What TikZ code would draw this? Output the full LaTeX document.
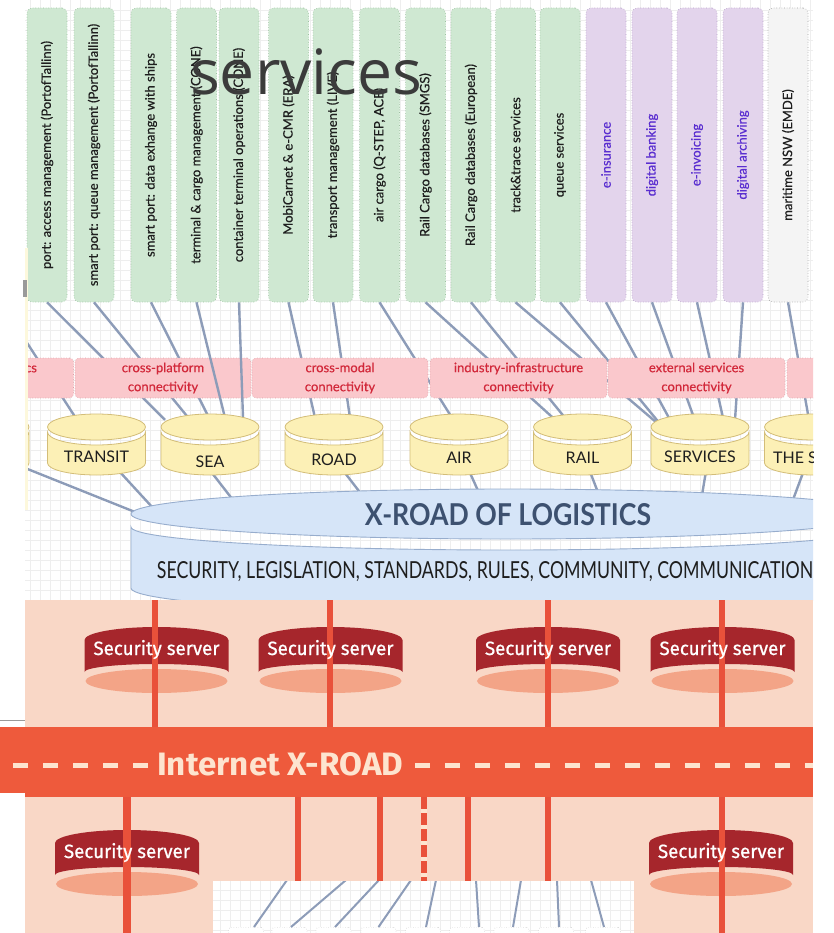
\documentclass[tikz,border=0pt]{standalone}
\usepackage{graphicx}
\usepackage{fontspec}
\setmainfont{Lato}
\newfontfamily\latom[FakeBold=0.5]{Lato}
\newfontfamily\osans{Open Sans}
\newfontfamily\firasans{Fira Sans}
\newfontfamily\firam[FakeBold=0.7]{Fira Sans}
\usetikzlibrary{calc}
\definecolor{gfill}{HTML}{CFE8D2}
\definecolor{gline}{HTML}{9CC2A0}
\definecolor{pfill}{HTML}{E3D4EC}
\definecolor{pline}{HTML}{B8A2CA}
\definecolor{ptext}{HTML}{5A2ED0}
\definecolor{wfill}{HTML}{F4F4F4}
\definecolor{wline}{HTML}{A0A0A0}
\definecolor{kfill}{HTML}{FAC8CC}
\definecolor{kline}{HTML}{D9A0A6}
\definecolor{ktext}{HTML}{D2283A}
\definecolor{yfill}{HTML}{FCF0B6}
\definecolor{yline}{HTML}{D3BD78}
\definecolor{bfill}{HTML}{D6E5F8}
\definecolor{bline}{HTML}{97ADCD}
\definecolor{btext}{HTML}{3D5170}
\definecolor{lnk}{HTML}{8D9CB8}
\definecolor{gridc}{HTML}{EEEEEE}
\definecolor{salmon}{HTML}{F9D7C6}
\definecolor{barc}{HTML}{EE5A3C}
\definecolor{redl}{HTML}{E9513A}
\definecolor{srvdark}{HTML}{A6262C}
\definecolor{srvlight}{HTML}{F3A487}
\definecolor{cream}{HTML}{FDE4CF}
\definecolor{dtext}{HTML}{1E1E1E}
\definecolor{ovl}{HTML}{3B3B3B}
\definecolor{stripc}{HTML}{FDF8DC}
\definecolor{markc}{HTML}{9A9A9A}

\newcommand\drawcyl[1]{%
  \filldraw[fill=yfill,draw=yline,line width=0.8pt] (#1-49,432) arc[start angle=180,end angle=0,x radius=49,y radius=13] -- (#1+49,463) arc[start angle=0,end angle=180,x radius=49,y radius=12] -- cycle;
  \filldraw[fill=yfill,draw=yline,line width=0.8pt] (#1,427) ellipse[x radius=49,y radius=13];
}
\newcommand\drawsrv[2]{%
  \fill[srvlight] (#1,#2+54) ellipse[x radius=71,y radius=12];
  \fill[srvdark] (#1-72,#2+13) arc[start angle=180,end angle=360,x radius=72,y radius=13] -- (#1+72,#2+45) arc[start angle=0,end angle=-180,x radius=72,y radius=8] -- cycle;
}

\begin{document}
\begin{tikzpicture}[x=1pt,y=-1pt,
  svcbase/.style={rectangle, rounded corners=5pt, minimum width=40pt, minimum height=294pt, inner sep=0pt, line width=0.6pt, dotted, font=\latom\fontsize{13}{15}\selectfont},
  svcg/.style={svcbase, fill=gfill, draw=gline, text=dtext},
  svcp/.style={svcbase, fill=pfill, draw=pline, text=ptext},
  svcw/.style={svcbase, fill=wfill, draw=wline, text=dtext},
  pinkbox/.style={rectangle, rounded corners=4pt, fill=kfill, draw=kline, dotted, line width=0.6pt, minimum width=176pt, minimum height=40pt, inner sep=0pt, align=center, text=ktext, font=\latom\fontsize{13}{19}\selectfont},
  cylbox/.style={inner sep=0pt, minimum width=98pt, minimum height=61pt},
  cyltxt/.style={inner sep=0pt, text=dtext, font=\fontsize{16}{18}\selectfont},
  conn/.style={draw=lnk, line width=2.4pt},
  redln/.style={draw=redl, line width=6pt},
  srvtxt/.style={anchor=base, inner sep=0pt, text=white},
  ibox/.style={rectangle, rounded corners=3pt, draw=wline, dotted, fill=white, minimum width=35pt, minimum height=20pt, inner sep=0pt, anchor=north}
]
\useasboundingbox (0,0) rectangle (833,933);
\fill[white] (0,0) rectangle (833,933);

% ---------------- top: X-road of logistics ----------------
\begin{scope}
\clip (25,0) rectangle (813,600);
\fill[white] (25,0) rectangle (813,600);
\foreach \gx in {30,40,...,810} \draw[gridc, line width=0.5pt] (\gx,0) -- (\gx,600);
\foreach \gy in {10,20,...,600} \draw[gridc, line width=0.5pt] (25,\gy) -- (813,\gy);

% service boxes
\node[svcg] (s1) at (47,155) {\rotatebox{90}{port: access management (PortofTallinn)}};
\node[svcg] (s2) at (94,155) {\rotatebox{90}{smart port: queue management (PortofTallinn)}};
\node[svcg] (s3) at (151,155) {\rotatebox{90}{smart port: data exhange with ships}};
\node[svcg] (s4) at (196.5,155) {\rotatebox{90}{terminal \& cargo management (CONE)}};
\node[svcg] (s5) at (239,155) {\rotatebox{90}{container terminal operations (CONE)}};
\node[svcg] (s6) at (288.5,155) {\rotatebox{90}{MobiCarnet \& e-CMR (ERA)}};
\node[svcg] (s7) at (333,155) {\rotatebox{90}{transport management (LIVE)}};
\node[svcg] (s8) at (379.5,155) {\rotatebox{90}{air cargo (Q-STEP, ACE)}};
\node[svcg] (s9) at (425.5,155) {\rotatebox{90}{Rail Cargo databases (SMGS)}};
\node[svcg] (s10) at (471,155) {\rotatebox{90}{Rail Cargo databases (European)}};
\node[svcg] (s11) at (515.5,155) {\rotatebox{90}{track\&trace services}};
\node[svcg] (s12) at (560,155) {\rotatebox{90}{queue services}};
\node[svcp] (s13) at (606,155) {\rotatebox{90}{e-insurance}};
\node[svcp] (s14) at (652,155) {\rotatebox{90}{digital banking}};
\node[svcp] (s15) at (697,155) {\rotatebox{90}{e-invoicing}};
\node[svcp] (s16) at (743,155) {\rotatebox{90}{digital archiving}};
\node[svcw] (s17) at (788,155) {\rotatebox{90}{maritime NSW (EMDE)}};

\node[anchor=base west, inner sep=0pt, text=ovl] (svctitle) at (190,95) {\resizebox{232pt}{!}{\osans services}};

% anchors of the databases and the X-road
\node[cylbox] (leftcyl) at (-20,444.5) {};
\node[cylbox] (transit) at (96.5,444.5) {};
\node[cylbox] (sea) at (210,444.5) {};
\node[cylbox] (road) at (334,444.5) {};
\node[cylbox] (air) at (459,444.5) {};
\node[cylbox] (rail) at (582.5,444.5) {};
\node[cylbox] (services) at (700,444.5) {};
\node[cylbox] (thes) at (813.5,444.5) {};
\coordinate (xroad) at (507,514);
\coordinate (edgeA) at (20,332);
\coordinate (edgeB) at (15,464);

% connectors behind the connectivity boxes
\draw[conn] (s1.south) -- ($(sea.north)+(-45,6)$);
\draw[conn] (s2.south) -- ($(sea.north)+(-20,6)$);
\draw[conn] (s3.south) -- ($(sea.north)+(0,6)$);
\draw[conn] (s6.south) -- ($(road.north)+(-19,4)$);
\draw[conn] (s7.south) -- ($(road.north)+(16,4)$);
\draw[conn] (s8.south) -- ($(air.north)+(-7,4)$);
\draw[conn] (s9.south) -- ($(rail.north)+(-29.5,4)$);
\draw[conn] (s10.south) -- ($(rail.north)+(-17.5,4)$);
\draw[conn] (s11.south) -- ($(services.north)+(-42,10)$);
\draw[conn] (s12.south) -- ($(services.north)+(-40,10)$);
\draw[conn] (s13.south) -- ($(services.north)+(-30,6)$);
\draw[conn] (s14.south) -- ($(services.north)+(-6,4)$);
\draw[conn] (s15.south) -- ($(services.north)+(23,4)$);
\draw[conn] (s16.south) -- ($(services.north)+(35,6)$);
\draw[conn] (s17.south) -- ($(thes.north)+(-4.5,6)$);
\draw[conn] (edgeA) -- ($(transit.north)+(-19.5,6)$);
\draw[conn] (edgeB) -- ($(xroad)+(-372,-2)$);
\draw[conn] ($(transit.south)+(13.5,-14)$) -- ($(xroad)+(-354,-6)$);
\draw[conn] ($(sea.south)+(-4,-10)$) -- ($(xroad)+(-274,-14)$);
\draw[conn] ($(road.south)+(5,-10)$) -- ($(xroad)+(-145,-19)$);
\draw[conn] ($(air.south)+(7.5,-10)$) -- ($(xroad)+(-27,-19)$);
\draw[conn] ($(rail.south)+(5,-10)$) -- ($(xroad)+(92,-19)$);
\draw[conn] ($(services.south)+(7,-10)$) -- ($(xroad)+(195,-19)$);
\draw[conn] ($(thes.south)+(-6.5,-13)$) -- ($(xroad)+(284,-9)$);

% connectivity boxes
\node[pinkbox] (cA) at (-14.5,378) {};
\node[inner sep=0pt, text=ktext, font=\latom\fontsize{13}{19}\selectfont] (cAtxt) at (31,369) {cs};
\node[pinkbox] (cB) at (163,378) {cross-platform\\connectivity};
\node[pinkbox] (cC) at (340,378) {cross-modal\\connectivity};
\node[pinkbox, minimum width=177pt] (cD) at (518.5,378) {industry-infrastructure\\connectivity};
\node[pinkbox, minimum width=177pt] (cE) at (696.5,378) {external services\\connectivity};
\node[pinkbox] (cF) at (875,378) {};

% connectors drawn over the boxes
\draw[conn] (s4.south) -- ($(sea.north)+(15,4)$);
\draw[conn] (s5.south) -- ($(sea.north)+(33,4)$);

% databases
\drawcyl{-20}
\drawcyl{96.5}
\drawcyl{210}
\drawcyl{334}
\drawcyl{459}
\drawcyl{582.5}
\drawcyl{700}
\drawcyl{813.5}
\node[cyltxt] (ltransit) at (96.5,457) {TRANSIT};
\node[cyltxt] (lsea) at (210,462) {SEA};
\node[cyltxt] (lroad) at (334,460) {ROAD};
\node[cyltxt] (lair) at (459,458) {AIR};
\node[cyltxt] (lrail) at (582.5,458) {RAIL};
\node[cyltxt] (lservices) at (700,457) {SERVICES};
\node[cyltxt, anchor=west] (lthes) at (773,458) {THE S};

% X-road of logistics
\filldraw[fill=bfill, draw=bline, line width=0.9pt] (131,527) arc[start angle=180,end angle=0,x radius=376,y radius=23] -- (883,588) arc[start angle=0,end angle=180,x radius=376,y radius=25] -- cycle;
\filldraw[fill=bfill, draw=bline, line width=0.9pt] (xroad) ellipse[x radius=376,y radius=25];
\node[inner sep=0pt, text=btext] (xtitle) at (508,515) {\resizebox{286pt}{22pt}{\bfseries X-ROAD OF LOGISTICS}};
\node[inner sep=0pt, text=dtext] (xsub) at (485,572) {\resizebox{656pt}{17pt}{SECURITY, LEGISLATION, STANDARDS, RULES, COMMUNITY, COMMUNICATION}};
\end{scope}
\fill[stripc] (25,248) rectangle (27.5,510);
\fill[markc] (23,280) rectangle (27,297);

% ---------------- bottom: Internet X-road ----------------
\fill[salmon] (25,600) rectangle (813,933);
\node[fill=barc, minimum width=788pt, minimum height=70pt, inner sep=0pt, anchor=north west] (bar) at (25,727) {};
\fill[barc] (0,727) rectangle (25,793);
\draw[markc, line width=0.6pt] (0,720) -- (25,720);

\drawsrv{156.5}{627}
\drawsrv{330.5}{627}
\drawsrv{548}{627}
\drawsrv{722.5}{627}
\drawsrv{127}{830}
\drawsrv{721}{830}

\coordinate (ut1) at (155,600);
\coordinate (ut2) at (330,600);
\coordinate (ut3) at (548,600);
\coordinate (ut4) at (722,600);
\draw[redln] (ut1) -- (ut1 |- bar.north);
\draw[redln] (ut2) -- (ut2 |- bar.north);
\draw[redln] (ut3) -- (ut3 |- bar.north);
\draw[redln] (ut4) -- (ut4 |- bar.north);
\coordinate (lb1) at (127,933);
\coordinate (lb2) at (298,933);
\coordinate (lb3) at (380,933);
\coordinate (lb4) at (424,933);
\coordinate (lb5) at (468,933);
\coordinate (lb6) at (548,933);
\coordinate (lb7) at (722,933);
\draw[redln, line width=7.5pt] (lb1 |- bar.south) -- (lb1);
\draw[redln, line width=5.5pt] (lb2 |- bar.south) -- (lb2);
\draw[redln, line width=5.5pt] (lb3 |- bar.south) -- (lb3);
\draw[redln, line width=5.5pt] (lb4 |- bar.south) -- (lb4);
\draw[cream, line width=5.5pt, dash pattern=on 4pt off 12pt, dash phase=-12pt] (lb4 |- bar.south) -- (lb4);
\draw[redln, line width=5.5pt] (lb5 |- bar.south) -- (lb5);
\draw[redln, line width=5.5pt] (lb6 |- bar.south) -- (lb6);
\draw[redln, line width=6.5pt] (lb7 |- bar.south) -- (lb7);

\node[srvtxt] (ss1) at (156.5,655) {\resizebox{126pt}{15pt}{\firam Security server}};
\node[srvtxt] (ss2) at (330.5,655) {\resizebox{126pt}{15pt}{\firam Security server}};
\node[srvtxt] (ss3) at (548,655) {\resizebox{126pt}{15pt}{\firam Security server}};
\node[srvtxt] (ss4) at (722.5,655) {\resizebox{126pt}{15pt}{\firam Security server}};
\node[srvtxt] (ss5) at (127,858) {\resizebox{126pt}{15pt}{\firam Security server}};
\node[srvtxt] (ss6) at (721,858) {\resizebox{126pt}{15pt}{\firam Security server}};

% dashes and title of the bar
\draw[cream, line width=5pt, dash pattern=on 15pt off 15pt] (148,765) -- (0,765);
\draw[cream, line width=5pt, dash pattern=on 15pt off 15pt] (415,765) -- (813,765);
\node[anchor=base west, inner sep=0pt, text=cream] (inet) at (157,775) {\resizebox{246pt}{23pt}{\firasans\bfseries Internet X-ROAD}};

% bottom inset
\begin{scope}
\clip (213,881) rectangle (634,933);
\fill[white] (213,881) rectangle (634,933);
\foreach \gx in {220,230,...,630} \draw[gridc, line width=0.5pt] (\gx,881) -- (\gx,933);
\foreach \gy in {890,900,...,930} \draw[gridc, line width=0.5pt] (213,\gy) -- (634,\gy);
\node[ibox] (b1) at (246,927) {};
\node[ibox] (b2) at (289.5,927) {};
\node[ibox] (b3) at (333.5,927) {};
\node[ibox] (b4) at (378.5,927) {};
\node[ibox] (b5) at (423,927) {};
\node[ibox] (b6) at (467,927) {};
\node[ibox] (b7) at (511.5,927) {};
\node[ibox] (b8) at (556,927) {};
\node[ibox] (b9) at (603,927) {};
\coordinate (c1) at (287,880);
\coordinate (c2) at (346,880);
\coordinate (c3) at (379,880);
\coordinate (c4) at (411,880);
\coordinate (c5) at (436,880);
\coordinate (c6) at (476,880);
\coordinate (c7) at (521,880);
\coordinate (c8) at (557,880);
\coordinate (c9) at (591,880);
\draw[conn, line width=2pt] (c1) -- ($(b1.north)+(8,0)$);
\draw[conn, line width=2pt] (c2) -- ($(b2.north)+(1.5,0)$);
\draw[conn, line width=2pt] (c3) -- ($(b3.north)+(1.5,0)$);
\draw[conn, line width=2pt] (c4) -- (b4.north);
\draw[conn, line width=2pt] (c5) -- ($(b5.north)+(3,0)$);
\draw[conn, line width=2pt] (c6) -- ($(b6.north)+(12,0)$);
\draw[conn, line width=2pt] (c7) -- ($(b7.north)+(1.5,0)$);
\draw[conn, line width=2pt] (c8) -- ($(b8.north)+(3,0)$);
\draw[conn, line width=2pt] (c9) -- ($(b9.north)+(1,0)$);
\end{scope}
\end{tikzpicture}
\end{document}
